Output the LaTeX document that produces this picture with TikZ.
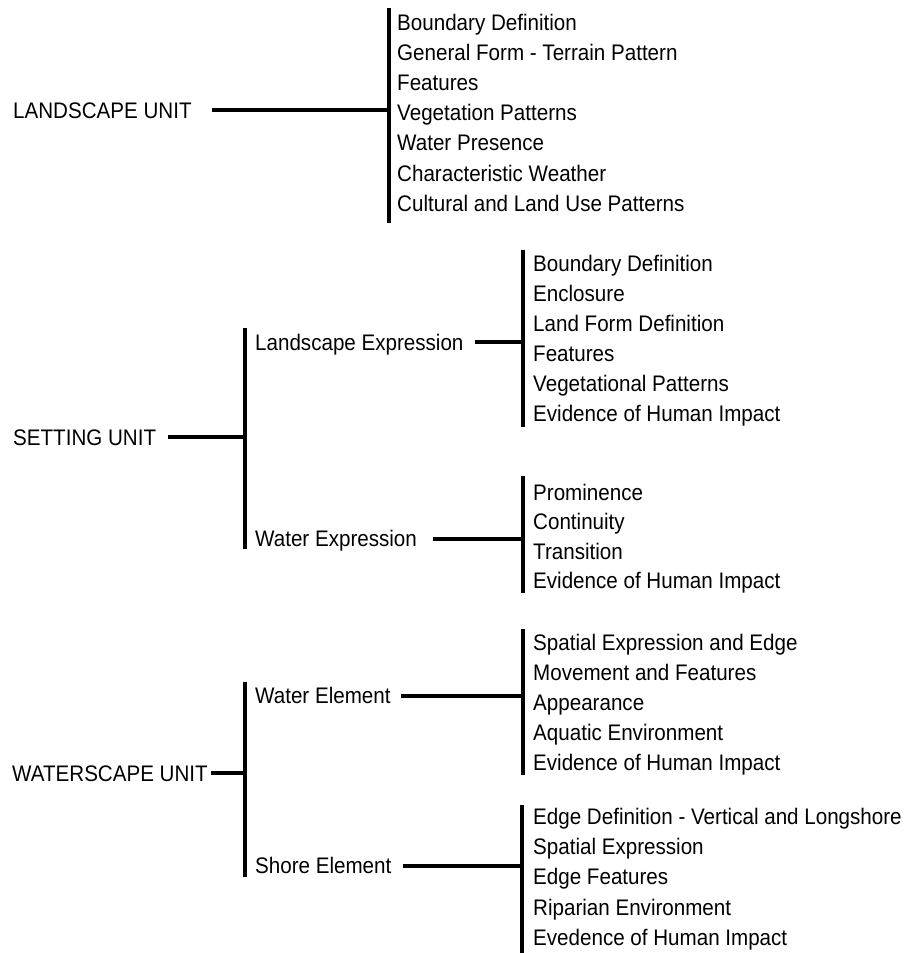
\documentclass[tikz,border=0pt]{standalone}
\usepackage{fontspec}
\setmainfont[FakeStretch=0.915]{Liberation Sans}
\begin{document}
\begin{tikzpicture}[x=1pt,y=-1pt,
  lbl/.style={anchor=base west,inner sep=0pt,font=\fontsize{22.5}{26}\selectfont},
  conn/.style={line width=4.3pt,black},
  barline/.style={line width=4.3pt,black}]
\useasboundingbox (0,0) rectangle (909,953);

% ---------- LANDSCAPE UNIT ----------
\node[lbl] (L0) at (13,118) {LANDSCAPE UNIT};
\coordinate (A-s) at (212,110);
\coordinate (A-j) at (389,110);
\coordinate (A-t) at (389,8);
\coordinate (A-b) at (389,223);
\draw[conn] (A-s) -- (A-j);
\draw[barline] (A-t) -- (A-b);
\foreach \t [count=\i] in {Boundary Definition,General Form - Terrain Pattern,Features,Vegetation Patterns,Water Presence,Characteristic Weather,Cultural and Land Use Patterns}
  \node[lbl] (a\i) at (397,{22.5+8+30.1*(\i-1)}) {\t};

% ---------- SETTING UNIT ----------
\node[lbl] (S0) at (13,445) {SETTING UNIT};
\coordinate (S-s) at (168,437);
\coordinate (S-j) at (245,437);
\coordinate (S-t) at (245,328);
\coordinate (S-b) at (245,549);
\draw[conn] (S-s) -- (S-j);
\draw[barline] (S-t) -- (S-b);

\node[lbl] (LE) at (255,350) {Landscape Expression};
\coordinate (LE-s) at (475,342);
\coordinate (LE-j) at (523,342);
\coordinate (LE-t) at (523,250);
\coordinate (LE-b) at (523,427);
\draw[conn] (LE-s) -- (LE-j);
\draw[barline] (LE-t) -- (LE-b);
\foreach \t [count=\i] in {Boundary Definition,Enclosure,Land Form Definition,Features,Vegetational Patterns,Evidence of Human Impact}
  \node[lbl] (b\i) at (533,{263+8+30*(\i-1)}) {\t};

\node[lbl] (WX) at (255,546) {Water Expression};
\coordinate (WX-s) at (433,539);
\coordinate (WX-j) at (523,539);
\coordinate (WX-t) at (523,476);
\coordinate (WX-b) at (523,593);
\draw[conn] (WX-s) -- (WX-j);
\draw[barline] (WX-t) -- (WX-b);
\foreach \t [count=\i] in {Prominence,Continuity,Transition,Evidence of Human Impact}
  \node[lbl] (c\i) at (533,{492+8+29.6*(\i-1)}) {\t};

% ---------- WATERSCAPE UNIT ----------
\node[lbl] (W0) at (12,781) {WATERSCAPE UNIT};
\coordinate (W-s) at (211,773);
\coordinate (W-j) at (245,773);
\coordinate (W-t) at (245,682);
\coordinate (W-b) at (245,877);
\draw[conn] (W-s) -- (W-j);
\draw[barline] (W-t) -- (W-b);

\node[lbl] (WEl) at (255,703) {Water Element};
\coordinate (WEl-s) at (401,696);
\coordinate (WEl-j) at (523,696);
\coordinate (WEl-t) at (523,629);
\coordinate (WEl-b) at (523,775);
\draw[conn] (WEl-s) -- (WEl-j);
\draw[barline] (WEl-t) -- (WEl-b);
\foreach \t [count=\i] in {Spatial Expression and Edge,Movement and Features,Appearance,Aquatic Environment,Evidence of Human Impact}
  \node[lbl] (d\i) at (533,{642+8+30*(\i-1)}) {\t};

\node[lbl] (SE) at (255,873) {Shore Element};
\coordinate (SE-s) at (403,866);
\coordinate (SE-j) at (522,866);
\coordinate (SE-t) at (522,805);
\coordinate (SE-b) at (522,953);
\draw[conn] (SE-s) -- (SE-j);
\draw[barline] (SE-t) -- (SE-b);
\foreach \t [count=\i] in {Edge Definition - Vertical and Longshore,Spatial Expression,Edge Features,Riparian Environment,Evedence of Human Impact}
  \node[lbl] (e\i) at (533,{816+8+30.4*(\i-1)}) {\t};
\end{tikzpicture}
\end{document}
